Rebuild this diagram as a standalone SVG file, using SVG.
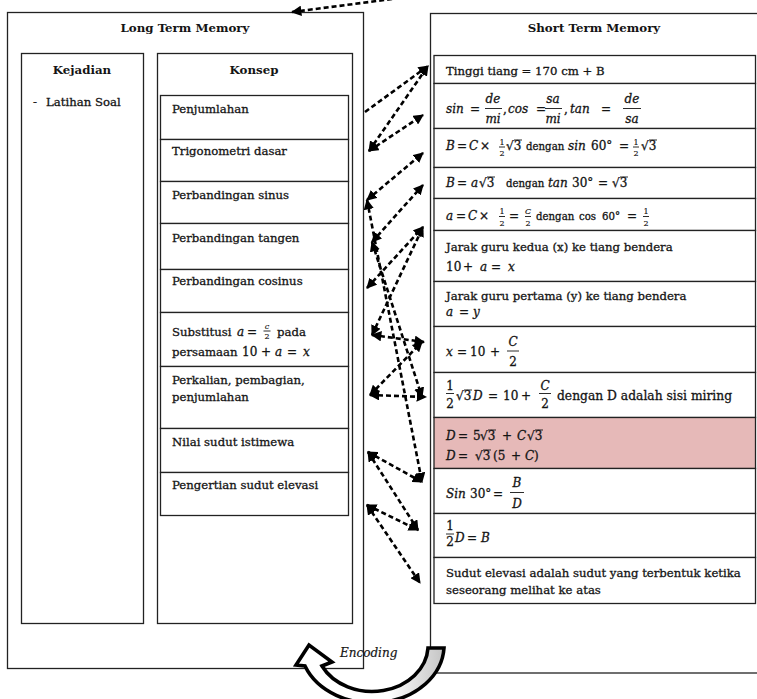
<svg xmlns="http://www.w3.org/2000/svg" width="757" height="699" viewBox="0 0 757 699">
<defs>
<style>
.box{fill:none;stroke:#222;stroke-width:1.3}
.row{fill:#fff;stroke:#222;stroke-width:1.3}
.t{font-family:"DejaVu Serif",serif;font-size:11.7px;fill:#141414;stroke:#141414;stroke-width:0.3px}
.h{font-family:"DejaVu Serif",serif;font-size:11.8px;font-weight:bold;fill:#141414}
.m{font-family:"DejaVu Serif",serif;font-size:12px;fill:#141414;stroke:#141414;stroke-width:0.3px}
.i{font-style:italic}
.s{font-size:10.2px}
.fr{font-size:8px;stroke-width:0.15px}
.c{text-anchor:middle}
.bar{stroke:#141414;stroke-width:0.9}
.con{fill:none;stroke:#000;stroke-width:2.6;stroke-dasharray:5 3;marker-start:url(#ah);marker-end:url(#ah)}
.one{marker-start:none}
</style>
<marker id="ah" viewBox="0 0 10 10" refX="9" refY="5" markerWidth="4" markerHeight="4" orient="auto-start-reverse" markerUnits="strokeWidth">
<path d="M0 0 L10 5 L0 10 z" fill="#000"/>
</marker>
<linearGradient id="enc" x1="0" y1="0" x2="1" y2="0">
<stop offset="0" stop-color="#fff"/>
<stop offset="0.62" stop-color="#fff"/>
<stop offset="1" stop-color="#c4c4c4"/>
</linearGradient>
</defs>
<rect width="757" height="699" fill="#fff"/>

<!-- Long term memory -->
<g id="ltm">
<rect x="7.5" y="12.5" width="356" height="656" class="box"/>
<text x="185" y="32" class="h c">Long Term Memory</text>
</g>
<g id="kejadian">
<rect x="21.5" y="53.5" width="122" height="570" class="box"/>
<text x="82" y="74" class="h c">Kejadian</text>
<text x="33" y="106" class="t">-</text>
<text x="46" y="106" class="t">Latihan Soal</text>
</g>
<g id="konsep">
<rect x="157.5" y="53.5" width="195" height="570" class="box"/>
<text x="254" y="74" class="h c">Konsep</text>
</g>
<g id="k1"><rect x="160.5" y="95.5" width="188" height="44" class="row"/><text x="172" y="113" class="t">Penjumlahan</text></g>
<g id="k2"><rect x="160.5" y="139.5" width="188" height="42" class="row"/><text x="172" y="155" class="t">Trigonometri dasar</text></g>
<g id="k3"><rect x="160.5" y="181.5" width="188" height="42" class="row"/><text x="172" y="199" class="t">Perbandingan sinus</text></g>
<g id="k4"><rect x="160.5" y="223.5" width="188" height="46" class="row"/><text x="172" y="242" class="t">Perbandingan tangen</text></g>
<g id="k5"><rect x="160.5" y="269.5" width="188" height="43" class="row"/><text x="172" y="285" class="t">Perbandingan cosinus</text></g>
<g id="k6"><rect x="160.5" y="312.5" width="188" height="54" class="row"/>
<text x="172" y="336" class="t">Substitusi</text>
<text x="237" y="336" class="m i">a</text>
<text x="252" y="336" class="m c">=</text>
<text x="267" y="328.5" class="m i c fr">c</text>
<line x1="263.5" y1="331" x2="270.5" y2="331" class="bar"/>
<text x="267" y="339" class="m c fr">2</text>
<text x="277" y="336" class="t">pada</text>
<text x="172" y="356" class="t">persamaan</text>
<text x="242" y="356" class="m">10</text>
<text x="266" y="356" class="m c">+</text>
<text x="275" y="356" class="m i">a</text>
<text x="292" y="356" class="m c">=</text>
<text x="303" y="356" class="m i">x</text>
</g>
<g id="k7"><rect x="160.5" y="366.5" width="188" height="62" class="row"/><text x="172" y="384" class="t">Perkalian, pembagian,</text><text x="172" y="401" class="t">penjumlahan</text></g>
<g id="k8"><rect x="160.5" y="428.5" width="188" height="44" class="row"/><text x="172" y="446" class="t">Nilai sudut istimewa</text></g>
<g id="k9"><rect x="160.5" y="472.5" width="188" height="43" class="row"/><text x="172" y="489" class="t">Pengertian sudut elevasi</text></g>

<!-- Short term memory -->
<g id="stm">
<rect x="430.5" y="13.5" width="340" height="659.5" class="box"/>
<text x="594" y="32" class="h c">Short Term Memory</text>
</g>
<g id="s1"><rect x="434" y="55.5" width="321.5" height="28" class="row"/>
<text x="446" y="75" class="t">Tinggi tiang = 170 cm + B</text></g>
<g id="s2"><rect x="434" y="83.5" width="321.5" height="45" class="row"/>
<text x="446" y="113" class="m i">sin</text>
<text x="475" y="113" class="m c">=</text>
<text x="493" y="103" class="m i c">de</text><line x1="485" y1="108.5" x2="502" y2="108.5" class="bar"/><text x="493" y="123" class="m i c">mi</text>
<text x="503" y="113" class="m">,</text>
<text x="508" y="113" class="m i">cos</text>
<text x="541" y="113" class="m c">=</text>
<text x="553" y="103" class="m i c">sa</text><line x1="545" y1="108.5" x2="562" y2="108.5" class="bar"/><text x="553" y="123" class="m i c">mi</text>
<text x="564" y="113" class="m">,</text>
<text x="570" y="113" class="m i">tan</text>
<text x="606" y="113" class="m c">=</text>
<text x="632" y="103" class="m i c">de</text><line x1="623" y1="108.5" x2="641" y2="108.5" class="bar"/><text x="632" y="123" class="m i c">sa</text>
</g>
<g id="s3"><rect x="434" y="128.5" width="321.5" height="39" class="row"/>
<text x="446" y="150" class="m i">B</text>
<text x="462" y="150" class="m c">=</text>
<text x="469" y="150" class="m i">C</text>
<text x="485" y="150" class="m c">×</text>
<text x="502" y="144.5" class="m c fr">1</text><line x1="499" y1="147" x2="505" y2="147" class="bar"/><text x="502" y="156" class="m c fr">2</text>
<text x="506" y="150" class="m">√3</text><line x1="514" y1="140" x2="522" y2="140" class="bar"/>
<text x="526" y="150" class="m s">dengan</text>
<text x="568" y="150" class="m i">sin</text>
<text x="591" y="150" class="m">60°</text>
<text x="624" y="150" class="m c">=</text>
<text x="636" y="144.5" class="m c fr">1</text><line x1="633" y1="147" x2="639" y2="147" class="bar"/><text x="636" y="156" class="m c fr">2</text>
<text x="641" y="150" class="m">√3</text><line x1="649" y1="140" x2="657" y2="140" class="bar"/>
</g>
<g id="s4"><rect x="434" y="167.5" width="321.5" height="31" class="row"/>
<text x="446" y="187" class="m i">B</text>
<text x="462" y="187" class="m c">=</text>
<text x="471" y="187" class="m i">a</text>
<text x="479" y="187" class="m">√3</text><line x1="487" y1="177" x2="495" y2="177" class="bar"/>
<text x="506" y="187" class="m s">dengan</text>
<text x="548" y="187" class="m i">tan</text>
<text x="572" y="187" class="m">30°</text>
<text x="603" y="187" class="m c">=</text>
<text x="612" y="187" class="m">√3</text><line x1="620" y1="177" x2="628" y2="177" class="bar"/>
</g>
<g id="s5"><rect x="434" y="198.5" width="321.5" height="32" class="row"/>
<text x="446" y="220" class="m i">a</text>
<text x="461" y="220" class="m c">=</text>
<text x="468" y="220" class="m i">C</text>
<text x="484" y="220" class="m c">×</text>
<text x="502" y="213.5" class="m c fr">1</text><line x1="499" y1="216.5" x2="505" y2="216.5" class="bar"/><text x="502" y="226" class="m c fr">2</text>
<text x="514" y="220" class="m c">=</text>
<text x="528" y="213.5" class="m i c fr">C</text><line x1="525" y1="216.5" x2="531" y2="216.5" class="bar"/><text x="528" y="226" class="m c fr">2</text>
<text x="536" y="220" class="m s">dengan</text>
<text x="579" y="220" class="m s">cos</text>
<text x="602" y="220" class="m s">60°</text>
<text x="632" y="220" class="m c">=</text>
<text x="646" y="213.5" class="m c fr">1</text><line x1="643" y1="216.5" x2="649" y2="216.5" class="bar"/><text x="646" y="226" class="m c fr">2</text>
</g>
<g id="s6"><rect x="434" y="230.5" width="321.5" height="51" class="row"/>
<text x="446" y="251" class="t">Jarak guru kedua (x) ke tiang bendera</text>
<text x="446" y="271" class="m">10</text>
<text x="468" y="271" class="m c">+</text>
<text x="480" y="271" class="m i">a</text>
<text x="496" y="271" class="m c">=</text>
<text x="508" y="271" class="m i">x</text>
</g>
<g id="s7"><rect x="434" y="281.5" width="321.5" height="45" class="row"/>
<text x="446" y="300" class="t">Jarak guru pertama (y) ke tiang bendera</text>
<text x="446" y="316" class="m i">a</text>
<text x="464" y="316" class="m c">=</text>
<text x="473" y="316" class="m i">y</text>
</g>
<g id="s8"><rect x="434" y="326.5" width="321.5" height="46" class="row"/>
<text x="446" y="356" class="m i">x</text>
<text x="462" y="356" class="m c">=</text>
<text x="470" y="356" class="m">10</text>
<text x="495" y="356" class="m c">+</text>
<text x="513" y="346" class="m i c">C</text><line x1="507" y1="351" x2="519" y2="351" class="bar"/><text x="513" y="366" class="m c">2</text>
</g>
<g id="s9"><rect x="434" y="372.5" width="321.5" height="45" class="row"/>
<text x="450" y="390" class="m c">1</text><line x1="446" y1="393.5" x2="454" y2="393.5" class="bar"/><text x="450" y="408" class="m c">2</text>
<text x="456" y="400" class="m">√3</text><line x1="464" y1="390" x2="472" y2="390" class="bar"/>
<text x="473" y="400" class="m i">D</text>
<text x="493" y="400" class="m c">=</text>
<text x="503" y="400" class="m">10</text>
<text x="526" y="400" class="m c">+</text>
<text x="545" y="390" class="m i c">C</text><line x1="539" y1="393.5" x2="551" y2="393.5" class="bar"/><text x="545" y="408" class="m c">2</text>
<text x="557" y="400" class="t" style="font-size:12.3px">dengan D adalah sisi miring</text>
</g>
<g id="s10"><rect x="434" y="417.5" width="321.5" height="51" class="row" style="fill:#e6b9b8"/>
<text x="446" y="440" class="m i">D</text>
<text x="463" y="440" class="m c">=</text>
<text x="473" y="440" class="m">5</text>
<text x="480" y="440" class="m">√3</text><line x1="488" y1="430" x2="496" y2="430" class="bar"/>
<text x="507" y="440" class="m c">+</text>
<text x="517" y="440" class="m i">C</text>
<text x="527" y="440" class="m">√3</text><line x1="535" y1="430" x2="543" y2="430" class="bar"/>
<text x="446" y="460" class="m i">D</text>
<text x="463" y="460" class="m c">=</text>
<text x="475" y="460" class="m">√3</text><line x1="483" y1="450" x2="491" y2="450" class="bar"/>
<text x="493" y="460" class="m">(5</text>
<text x="516" y="460" class="m c">+</text>
<text x="525" y="460" class="m i">C</text>
<text x="534" y="460" class="m">)</text>
</g>
<g id="s11"><rect x="434" y="468.5" width="321.5" height="45" class="row"/>
<text x="446" y="498" class="m i">Sin</text>
<text x="470" y="498" class="m">30°</text>
<text x="498" y="498" class="m c">=</text>
<text x="517" y="487" class="m i c">B</text><line x1="510" y1="492.5" x2="524" y2="492.5" class="bar"/><text x="517" y="508" class="m i c">D</text>
</g>
<g id="s12"><rect x="434" y="513.5" width="321.5" height="44" class="row"/>
<text x="450" y="530" class="m c">1</text><line x1="446" y1="534" x2="454" y2="534" class="bar"/><text x="450" y="546" class="m c">2</text>
<text x="455" y="542" class="m i">D</text>
<text x="472" y="542" class="m c">=</text>
<text x="481" y="542" class="m i">B</text>
</g>
<g id="s13"><rect x="434" y="557.5" width="321.5" height="46" class="row"/>
<text x="446" y="577" class="t">Sudut elevasi adalah sudut yang terbentuk ketika</text>
<text x="446" y="594" class="t">seseorang melihat ke atas</text>
</g>

<!-- connectors -->
<g id="connectors">
<line x1="400" y1="-2" x2="292" y2="12" class="con one"/>
<line x1="365" y1="112" x2="428" y2="66" class="con one"/>
<line x1="369" y1="151" x2="428" y2="66" class="con"/>
<line x1="369" y1="151" x2="423" y2="115" class="con"/>
<line x1="367" y1="200" x2="423" y2="153" class="con"/>
<line x1="372" y1="242" x2="423" y2="185" class="con"/>
<line x1="367" y1="288" x2="423" y2="227" class="con"/>
<line x1="372" y1="335" x2="423" y2="227" class="con"/>
<line x1="372" y1="335" x2="424" y2="342" class="con"/>
<line x1="370" y1="395" x2="422" y2="342" class="con"/>
<line x1="370" y1="395" x2="426" y2="397" class="con"/>
<line x1="372" y1="242" x2="422" y2="397" class="con"/>
<line x1="367" y1="200" x2="422" y2="482" class="con"/>
<line x1="368" y1="452" x2="422" y2="482" class="con"/>
<line x1="368" y1="452" x2="418" y2="530" class="con"/>
<line x1="367" y1="505" x2="418" y2="530" class="con"/>
<line x1="367" y1="505" x2="420" y2="583" class="con"/>
</g>

<!-- encoding arrow -->
<g id="encoding">
<path d="M428 648 L444 648 A72 58 0 0 1 305 666 L296 665 L309 645 L332 662 L322 666 A56 46 0 0 0 428 648 Z" fill="url(#enc)" stroke="#000" stroke-width="3.6" stroke-linejoin="miter"/>
<text x="340" y="657" class="m i" style="stroke-width:0.2px">Encoding</text>
</g>
</svg>
